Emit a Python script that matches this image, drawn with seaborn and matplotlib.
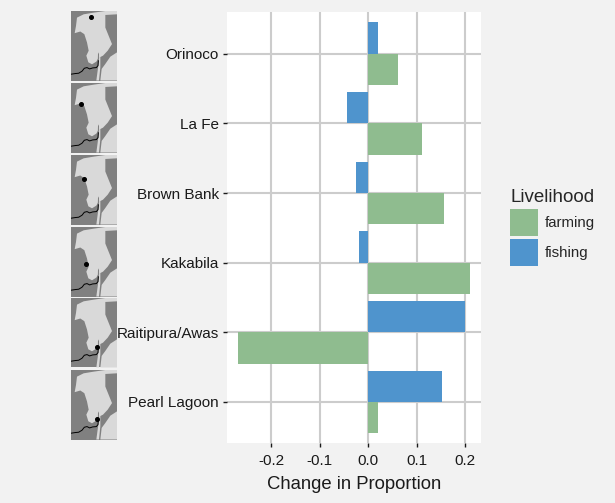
import pandas as pd
import matplotlib.pyplot as plt
from matplotlib.patches import Polygon
import seaborn as sns

# Values
communities = ['Orinoco', 'La Fe', 'Brown Bank', 'Kakabila', 'Raitipura/Awas', 'Pearl Lagoon']
farming = [0.062, 0.112, 0.157, 0.21, -0.268, 0.021]
fishing = [0.02, -0.043, -0.024, -0.018, 0.2, 0.153]
ticks = [-0.2, -0.1, 0.0, 0.1, 0.2]

# Map outlines, in the pixel frame of one thumbnail
land = [(135, 30), (100, 35), (70, 40), (50, 50), (47, 75), (43, 97), (60, 92), (72, 100),
        (80, 125), (85, 150), (78, 165), (84, 185), (95, 191), (108, 183), (114, 172),
        (128, 165), (142, 150), (155, 130), (145, 105), (135, 80), (135, 42),
        (170, 40), (170, 30)]
south = [(120, 240), (124, 205), (135, 190), (150, 168), (170, 155), (170, 240)]
lagoon = [(112, 190), (113, 160), (116, 155), (116, 190)]
spit = [(108, 240), (114, 195), (118, 155), (120, 160), (120, 200), (116, 240)]
coast = [(32, 221), (45, 219), (55, 218), (65, 212), (72, 203), (80, 201), (88, 205),
         (97, 202), (108, 201), (113, 195), (114, 180)]
map_x = [91, 62, 70, 77, 110, 110]
map_y = [47, 93, 103, 142, 177, 178]
map_top = [11, 83, 155, 227, 298, 370]

df = pd.DataFrame({
    'community': communities * 2,
    'change': farming + fishing,
    'Livelihood': ['farming'] * 6 + ['fishing'] * 6,
})

sns.set_style('whitegrid')
plt.rcParams['font.family'] = ['Liberation Sans', 'DejaVu Sans']

W, H = 615, 503
fig = plt.figure(figsize=(W / 100, H / 100), dpi=100, facecolor='#f2f2f2')
ax = fig.add_axes([227 / W, 1 - 443 / H, 254 / W, 431 / H])

sns.barplot(data=df, y='community', x='change', hue='Livelihood', order=communities,
            hue_order=['fishing', 'farming'],
            palette={'farming': '#8fbc8f', 'fishing': '#4f94cd'},
            width=0.9, gap=0, saturation=1, linewidth=0, ax=ax)

ax.set_xlim(-0.291, 0.233)
ax.set_ylim(5.59, -0.6)
ax.set_xticks(ticks)
ax.set_xticklabels([f'{t:.1f}' for t in ticks])
ax.set_ylabel('')
ax.set_xlabel('Change in Proportion', fontsize=13.3, color='#1a1a1a', labelpad=6)
ax.grid(True, color='#cccccc', linewidth=1.5)
ax.set_axisbelow(True)
sns.despine(ax=ax, left=True, bottom=True, right=True, top=True)
ax.tick_params(axis='x', labelsize=11, colors='#1a1a1a', length=3, width=1, pad=5, bottom=True)
ax.tick_params(axis='y', labelsize=11, colors='#1a1a1a', length=3, width=1, pad=3, left=True)

# Legend keeps farming first
handles, labels = ax.get_legend_handles_labels()
ax.legend(handles[::-1], labels[::-1], title='Livelihood', frameon=False, fontsize=10.8,
          title_fontsize=13.5, loc='upper left', bbox_to_anchor=(510 / W, 1 - 189 / H),
          bbox_transform=fig.transFigure, handlelength=1.85, handleheight=2.4,
          handletextpad=0.45, labelspacing=0.2, borderpad=0, borderaxespad=0,
          alignment='left')

# Locator maps
for top, px, py in zip(map_top, map_x, map_y):
    m = fig.add_axes([71 / W, 1 - (top + 69.5) / H, 46 / W, 69.5 / H])
    m.set_xlim(32, 170)
    m.set_ylim(240, 30)
    m.axis('off')
    m.add_patch(plt.Rectangle((32, 30), 138, 210, color='#808080', lw=0))
    for shape, shade in ((land, '#d9d9d9'), (south, '#d9d9d9'), (lagoon, '#808080'), (spit, '#d9d9d9')):
        m.add_patch(Polygon(shape, closed=True, color=shade, lw=0))
    m.plot([p[0] for p in coast], [p[1] for p in coast], color='black', lw=0.7)
    m.plot([px], [py], 'o', color='black', ms=2.6)

fig.savefig('out.png', dpi=100, facecolor=fig.get_facecolor())
